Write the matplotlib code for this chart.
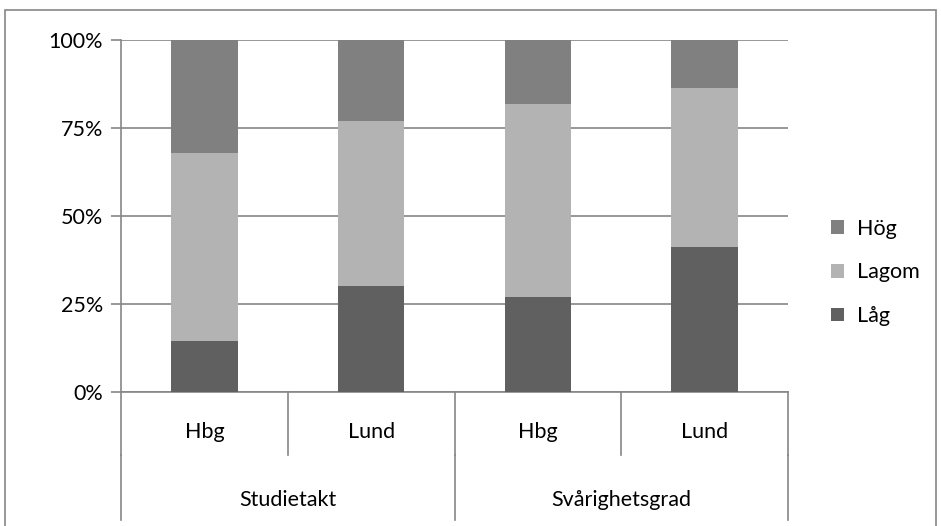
import matplotlib.pyplot as plt
from matplotlib.patches import Rectangle
from matplotlib.lines import Line2D

plt.rcParams['font.family'] = ['Lato', 'DejaVu Sans']

campus = ['Hbg', 'Lund', 'Hbg', 'Lund']
groups = ['Studietakt', 'Svårighetsgrad']
series = ['Låg', 'Lagom', 'Hög']
lag = [14.5, 30.1, 27.0, 41.2]
lagom = [53.4, 46.9, 54.8, 45.2]
hog = [32.1, 23.0, 18.2, 13.6]
colors = {'Låg': '#606060', 'Lagom': '#b3b3b3', 'Hög': '#808080'}

W, H = 941, 526
fs = 15.5
fig = plt.figure(figsize=(W / 100, H / 100), dpi=100)

# outer chart border
fig.patches.append(Rectangle((5 / W, -0.02), 931 / W, 1.02 - 10 / H, transform=fig.transFigure,
                             fill=False, edgecolor='#868686', linewidth=1.2))

ax = fig.add_axes([121 / W, 1 - 392 / H, 667 / W, 352 / H])
x = list(range(len(campus)))
bottom2 = [a + b for a, b in zip(lag, lagom)]
ax.bar(x, lag, width=0.4, color=colors['Låg'], label='Låg', zorder=3)
ax.bar(x, lagom, bottom=lag, width=0.4, color=colors['Lagom'], label='Lagom', zorder=3)
ax.bar(x, hog, bottom=bottom2, width=0.4, color=colors['Hög'], label='Hög', zorder=3)

ax.set_xlim(-0.5, 3.5)
ax.set_ylim(0, 100)
ax.set_yticks([0, 25, 50, 75, 100])
ax.set_yticklabels(['0%', '25%', '50%', '75%', '100%'], fontsize=fs)
ax.yaxis.grid(True, color='#868686', linewidth=1.2, zorder=0)
ax.tick_params(axis='y', length=7, width=1.2, color='#868686', pad=6)
ax.set_xticks([])
for s in ['top', 'right']:
    ax.spines[s].set_visible(False)
for s in ['left', 'bottom']:
    ax.spines[s].set_color('#868686')
    ax.spines[s].set_linewidth(1.2)

# two-level category axis
tr = ax.get_xaxis_transform()
for xi in [-0.5, 0.5, 1.5, 2.5, 3.5]:
    ax.add_line(Line2D([xi, xi], [0, -0.179], transform=tr, color='#868686', lw=1.2, clip_on=False))
for xi in [-0.5, 1.5, 3.5]:
    ax.add_line(Line2D([xi, xi], [-0.179, -0.364], transform=tr, color='#868686', lw=1.2, clip_on=False))
for xi, lab in zip(x, campus):
    ax.text(xi, -0.114, lab, transform=tr, ha='center', va='center', fontsize=fs)
for xi, lab in zip([0.5, 2.5], groups):
    ax.text(xi, -0.307, lab, transform=tr, ha='center', va='center', fontsize=fs)

handles, labels = ax.get_legend_handles_labels()
ax.legend(handles[::-1], labels[::-1], loc='center left', bbox_to_anchor=(1.035, 0.34),
          frameon=False, fontsize=fs, handlelength=0.6, handleheight=0.6,
          labelspacing=1.1, handletextpad=0.6)

fig.savefig('out.png', dpi=100)
